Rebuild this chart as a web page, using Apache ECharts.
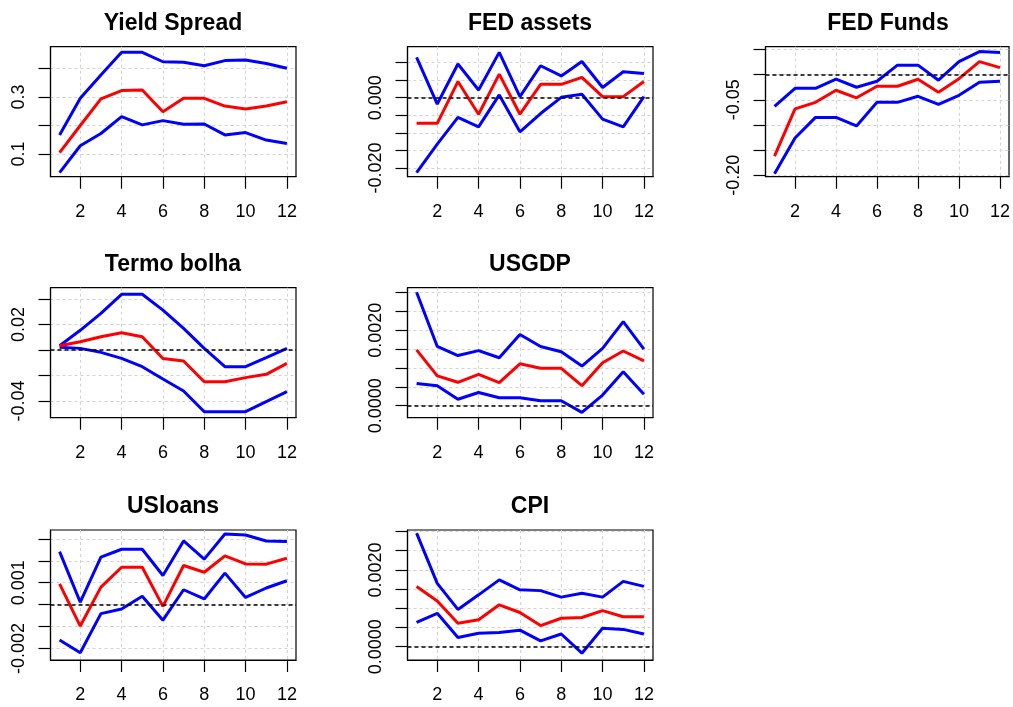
<!DOCTYPE html>
<html>
<head>
<meta charset="utf-8">
<title>IRF panels</title>
<script src="https://cdn.jsdelivr.net/npm/echarts@6/dist/echarts.min.js"></script>
<style>
  html, body { margin: 0; padding: 0; background: #fff; }
  #chart { width: 1013px; height: 707px; }
</style>
</head>
<body>
<div id="chart"></div>
<script>
// horizon and x ticks (shared by all panels)
var horizon = [1, 2, 3, 4, 5, 6, 7, 8, 9, 10, 11, 12]
var xTicks = [2, 4, 6, 8, 10, 12]

// Yield Spread
var ysUpper = [0.167, 0.295, 0.377, 0.456, 0.456, 0.423, 0.421, 0.409, 0.427, 0.429, 0.417, 0.400]
var ysIrf = [0.105, 0.200, 0.293, 0.322, 0.324, 0.248, 0.295, 0.295, 0.268, 0.258, 0.268, 0.283]
var ysLower = [0.035, 0.129, 0.172, 0.231, 0.202, 0.217, 0.204, 0.205, 0.167, 0.175, 0.149, 0.137]
var ysTicks = [0.1, 0.2, 0.3, 0.4]
var ysLabels = [0.1, 0.3]

// FED assets
var faUpper = [0.0115, -0.0018, 0.0096, 0.0022, 0.0129, 0.0003, 0.0091, 0.0062, 0.0103, 0.0029, 0.0074, 0.0069]
var faIrf = [-0.0073, -0.0073, 0.0046, -0.0047, 0.0067, -0.0047, 0.0038, 0.0038, 0.0058, 0.0003, 0.0003, 0.0046]
var faLower = [-0.0213, -0.0132, -0.0056, -0.0083, 0.0008, -0.0097, -0.0045, 0.0001, 0.0010, -0.0061, -0.0083, 0.0003]
var faTicks = [-0.02, -0.015, -0.01, -0.005, 0, 0.005, 0.01]
var faLabels = [-0.02, 0]

// FED Funds
var ffUpper = [-0.063, -0.027, -0.027, -0.009, -0.025, -0.013, 0.019, 0.019, -0.011, 0.026, 0.046, 0.044]
var ffIrf = [-0.162, -0.068, -0.055, -0.031, -0.046, -0.023, -0.023, -0.009, -0.035, -0.008, 0.026, 0.014]
var ffLower = [-0.197, -0.126, -0.085, -0.085, -0.102, -0.055, -0.055, -0.043, -0.059, -0.041, -0.015, -0.013]
var ffTicks = [-0.2, -0.15, -0.1, -0.05, 0, 0.05]
var ffLabels = [-0.2, -0.05]

// Termo bolha
var tbUpper = [0.0034, 0.0155, 0.0288, 0.0438, 0.0438, 0.0314, 0.0170, 0.0013, -0.0131, -0.0131, -0.0060, 0.0013]
var tbIrf = [0.0034, 0.0065, 0.0105, 0.0136, 0.0105, -0.0066, -0.0086, -0.0249, -0.0249, -0.0217, -0.0191, -0.0105]
var tbLower = [0.0021, 0.0013, -0.0018, -0.0066, -0.0131, -0.0228, -0.0322, -0.0485, -0.0485, -0.0485, -0.0406, -0.0327]
var tbTicks = [-0.04, -0.02, 0, 0.02, 0.04]
var tbLabels = [-0.04, 0.02]

// USGDP
var gdpUpper = [0.00301, 0.00157, 0.00133, 0.00146, 0.00127, 0.00189, 0.00157, 0.00143, 0.00105, 0.00152, 0.00223, 0.00150]
var gdpIrf = [0.00148, 0.00079, 0.00062, 0.00083, 0.00061, 0.00111, 0.00099, 0.00099, 0.00053, 0.00114, 0.00145, 0.00119]
var gdpLower = [0.00059, 0.00053, 0.00017, 0.00035, 0.00021, 0.00021, 0.00013, 0.00013, -0.00018, 0.00028, 0.00090, 0.00030]
var gdpTicks = [0, 0.0005, 0.001, 0.0015, 0.002, 0.0025, 0.003]
var gdpLabels = [0, 0.002]

// USloans
var loUpper = [0.00242, 0.00011, 0.00217, 0.00253, 0.00253, 0.00133, 0.00291, 0.00208, 0.00323, 0.00318, 0.00291, 0.00288]
var loIrf = [0.00095, -0.00098, 0.00080, 0.00171, 0.00171, -0.00008, 0.00179, 0.00148, 0.00223, 0.00186, 0.00185, 0.00212]
var loLower = [-0.00162, -0.00220, -0.00041, -0.00020, 0.00038, -0.00071, 0.00068, 0.00026, 0.00144, 0.00033, 0.00076, 0.00109]
var loTicks = [-0.002, -0.001, 0, 0.001, 0.002, 0.003]
var loLabels = [-0.002, 0.001]

// CPI
var cpiUpper = [0.00296, 0.00165, 0.00097, 0.00135, 0.00174, 0.00148, 0.00146, 0.00129, 0.00139, 0.00129, 0.00170, 0.00157]
var cpiIrf = [0.00157, 0.00119, 0.00061, 0.00070, 0.00109, 0.00089, 0.00055, 0.00074, 0.00076, 0.00094, 0.00078, 0.00078]
var cpiLower = [0.00063, 0.00087, 0.00024, 0.00035, 0.00037, 0.00043, 0.00015, 0.00033, -0.00017, 0.00048, 0.00045, 0.00033]
var cpiTicks = [0, 0.0005, 0.001, 0.0015, 0.002, 0.0025, 0.003]
var cpiLabels = [0, 0.002]

var FONT = '"Liberation Sans", Arial, sans-serif'
var colLeft = [50.5, 407.5, 765.5]
var rowTop = [46.7, 287.7, 530]

var panels = [
  { name: 'Yield Spread', up: ysUpper, mid: ysIrf, lo: ysLower, ticks: ysTicks, labels: ysLabels, digits: 1, range: [0.0207, 0.4757], col: 0, row: 0 },
  { name: 'FED assets', up: faUpper, mid: faIrf, lo: faLower, ticks: faTicks, labels: faLabels, digits: 3, range: [-0.02249, 0.01452], col: 1, row: 0 },
  { name: 'FED Funds', up: ffUpper, mid: ffIrf, lo: ffLower, ticks: ffTicks, labels: ffLabels, digits: 2, range: [-0.203, 0.0557], col: 2, row: 0 },
  { name: 'Termo bolha', up: tbUpper, mid: tbIrf, lo: tbLower, ticks: tbTicks, labels: tbLabels, digits: 2, range: [-0.0532, 0.049], col: 0, row: 1 },
  { name: 'USGDP', up: gdpUpper, mid: gdpIrf, lo: gdpLower, ticks: gdpTicks, labels: gdpLabels, digits: 4, range: [-0.00032, 0.00313], col: 1, row: 1 },
  { name: 'USloans', up: loUpper, mid: loIrf, lo: loLower, ticks: loTicks, labels: loLabels, digits: 3, range: [-0.00253, 0.00341], col: 0, row: 2 },
  { name: 'CPI', up: cpiUpper, mid: cpiIrf, lo: cpiLower, ticks: cpiTicks, labels: cpiLabels, digits: 4, range: [-0.000348, 0.00304], col: 1, row: 2 }
]

function pairs(values) {
  return horizon.map(function(h, i) { return [h, values[i]] })
}

var option = { animation: false, title: [], grid: [], xAxis: [], yAxis: [], series: [] }

panels.forEach(function(p, k) {
  var left = colLeft[p.col]
  var top = rowTop[p.row]
  option.title.push({
    text: p.name,
    left: left + 122.5,
    top: top - 35,
    textAlign: 'center',
    padding: 0,
    textStyle: { fontFamily: FONT, fontSize: 23, fontWeight: 'bold', color: '#000' }
  })
  option.grid.push({
    left: left, top: top, width: 245.5, height: 130,
    show: true, borderColor: '#000', borderWidth: 1.2, backgroundColor: 'transparent'
  })
  option.xAxis.push({
    type: 'value', gridIndex: k, min: 0.56, max: 12.44,
    axisLine: { show: true, onZero: false, lineStyle: { color: '#000', width: 1.2 } },
    axisTick: { show: true, length: 12, customValues: xTicks, lineStyle: { color: '#000', width: 1.2 } },
    axisLabel: { customValues: xTicks, margin: 26, fontFamily: FONT, fontSize: 18, color: '#000' },
    splitLine: { show: true, lineStyle: { color: '#d3d3d3', type: [3, 3], width: 1 } }
  })
  option.yAxis.push({
    type: 'value', gridIndex: k, min: p.range[0], max: p.range[1],
    axisLine: { show: true, lineStyle: { color: '#000', width: 1.2 } },
    axisTick: { show: true, length: 12, customValues: p.ticks, lineStyle: { color: '#000', width: 1.2 } },
    axisLabel: {
      customValues: p.labels, rotate: 90, margin: 22,
      fontFamily: FONT, fontSize: 18, color: '#000',
      formatter: function(v) { return Number(v).toFixed(p.digits) }
    },
    splitLine: { show: true, lineStyle: { color: '#d3d3d3', type: [3, 3], width: 1 } }
  })
  var lineBase = { type: 'line', xAxisIndex: k, yAxisIndex: k, showSymbol: false, symbol: 'none', silent: true }
  option.series.push(Object.assign({}, lineBase, { data: pairs(p.up), lineStyle: { color: '#0000ff', width: 3 }, z: 3 }))
  option.series.push(Object.assign({}, lineBase, { data: pairs(p.lo), lineStyle: { color: '#0000ff', width: 3 }, z: 3 }))
  option.series.push(Object.assign({}, lineBase, {
    data: pairs(p.mid), lineStyle: { color: '#ff0000', width: 3 }, z: 4,
    markLine: {
      silent: true, symbol: ['none', 'none'], label: { show: false },
      lineStyle: { color: '#000', type: [4, 3], width: 1.5 },
      data: [{ yAxis: 0 }]
    }
  }))
})

var chart = echarts.init(document.getElementById('chart'))
chart.setOption(option)
</script>
</body>
</html>
